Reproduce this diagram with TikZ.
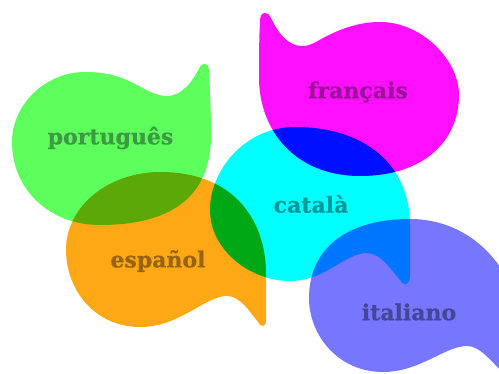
\documentclass[tikz,border=0pt]{standalone}
\usepackage{fontspec}
\setmainfont{DejaVu Serif}[BoldFeatures={FakeBold=0.7}]
\definecolor{cgreen}{HTML}{5CFF5C}
\definecolor{corange}{HTML}{FFA816}
\definecolor{ccyan}{HTML}{00FFFF}
\definecolor{cmagenta}{HTML}{FF0FFF}
\definecolor{cviolet}{HTML}{7676FF}
\definecolor{tgreen}{HTML}{3E9944}
\definecolor{tmagenta}{HTML}{991499}
\definecolor{tcyan}{HTML}{009999}
\definecolor{torange}{HTML}{99640E}
\definecolor{tviolet}{HTML}{464699}
\tikzset{
  bubble/.style={fill=#1,draw=none,blend mode=multiply},
  lang/.style={font=\bfseries\fontsize{22}{22}\selectfont,inner sep=0pt,text=#1}
}
\begin{document}
\begin{tikzpicture}[x=1pt,y=-1pt]
\useasboundingbox (0,0) rectangle (499,374);
\fill[white] (0,0) rectangle (499,374);
\clip (0,0) rectangle (499,374);
\begin{scope}[blend group=normal]
\fill[bubble=cgreen] (204,64) .. controls (208,64) and (209,67) .. (209,70)
 .. controls (210,90) and (211,115) .. (211,135)
 .. controls (211,175) and (195,225) .. (100,225)
 .. controls (50,225) and (12,190) .. (12,142)
 .. controls (12,105) and (45,72) .. (85,72)
 .. controls (105,72) and (120,76) .. (135,84)
 .. controls (145,89) and (155,96) .. (167,96)
 .. controls (183,96) and (193,80) .. (200,67)
 .. controls (201,65) and (202,64) .. (204,64) -- cycle;
\fill[bubble=corange] (263,326) .. controls (266,326) and (266,323) .. (266,320)
 .. controls (266,300) and (266,285) .. (266,273)
 .. controls (266,225) and (238,172) .. (160,172)
 .. controls (110,172) and (66,205) .. (66,250)
 .. controls (66,290) and (95,327) .. (140,327)
 .. controls (180,327) and (205,296) .. (227,296)
 .. controls (240,296) and (250,312) .. (258,322)
 .. controls (260,325) and (261,326) .. (263,326) -- cycle;
\fill[bubble=ccyan] (405,284) .. controls (409,284) and (410,280) .. (410,275)
 .. controls (410,258) and (410,240) .. (410,225)
 .. controls (410,165) and (365,127) .. (295,127)
 .. controls (245,127) and (210,170) .. (210,210)
 .. controls (210,250) and (250,281) .. (290,281)
 .. controls (325,281) and (345,253) .. (367,253)
 .. controls (380,253) and (390,268) .. (400,280)
 .. controls (402,283) and (403,284) .. (405,284) -- cycle;
\fill[bubble=cmagenta] (265,13) .. controls (261,13) and (260,17) .. (260,22)
 .. controls (259,40) and (259,60) .. (259,75)
 .. controls (258,130) and (295,176) .. (360,176)
 .. controls (425,176) and (459,140) .. (459,95)
 .. controls (459,60) and (422,22) .. (380,22)
 .. controls (360,22) and (342,28) .. (323,38)
 .. controls (314,43) and (310,46) .. (302,46)
 .. controls (288,46) and (278,33) .. (271,18)
 .. controls (270,15) and (268,13) .. (265,13) -- cycle;
\fill[bubble=cviolet] (309,298) .. controls (309,335) and (338,372) .. (383,372)
 .. controls (420,372) and (445,346) .. (467,346)
 .. controls (480,346) and (490,360) .. (510,380)
 .. controls (530,340) and (520,300) .. (505,275)
 .. controls (485,240) and (450,219) .. (410,219)
 .. controls (345,219) and (309,250) .. (309,298) -- cycle;
\end{scope}
\node[lang=tgreen] (pt) at (110.5,138) {português};
\node[lang=tmagenta] (fr) at (358,92) {français};
\node[lang=tcyan] (ca) at (311,204) {català};
\node[lang=torange] (es) at (158,261) {español};
\node[lang=tviolet] (it) at (409,312) {italiano};
\end{tikzpicture}
\end{document}
